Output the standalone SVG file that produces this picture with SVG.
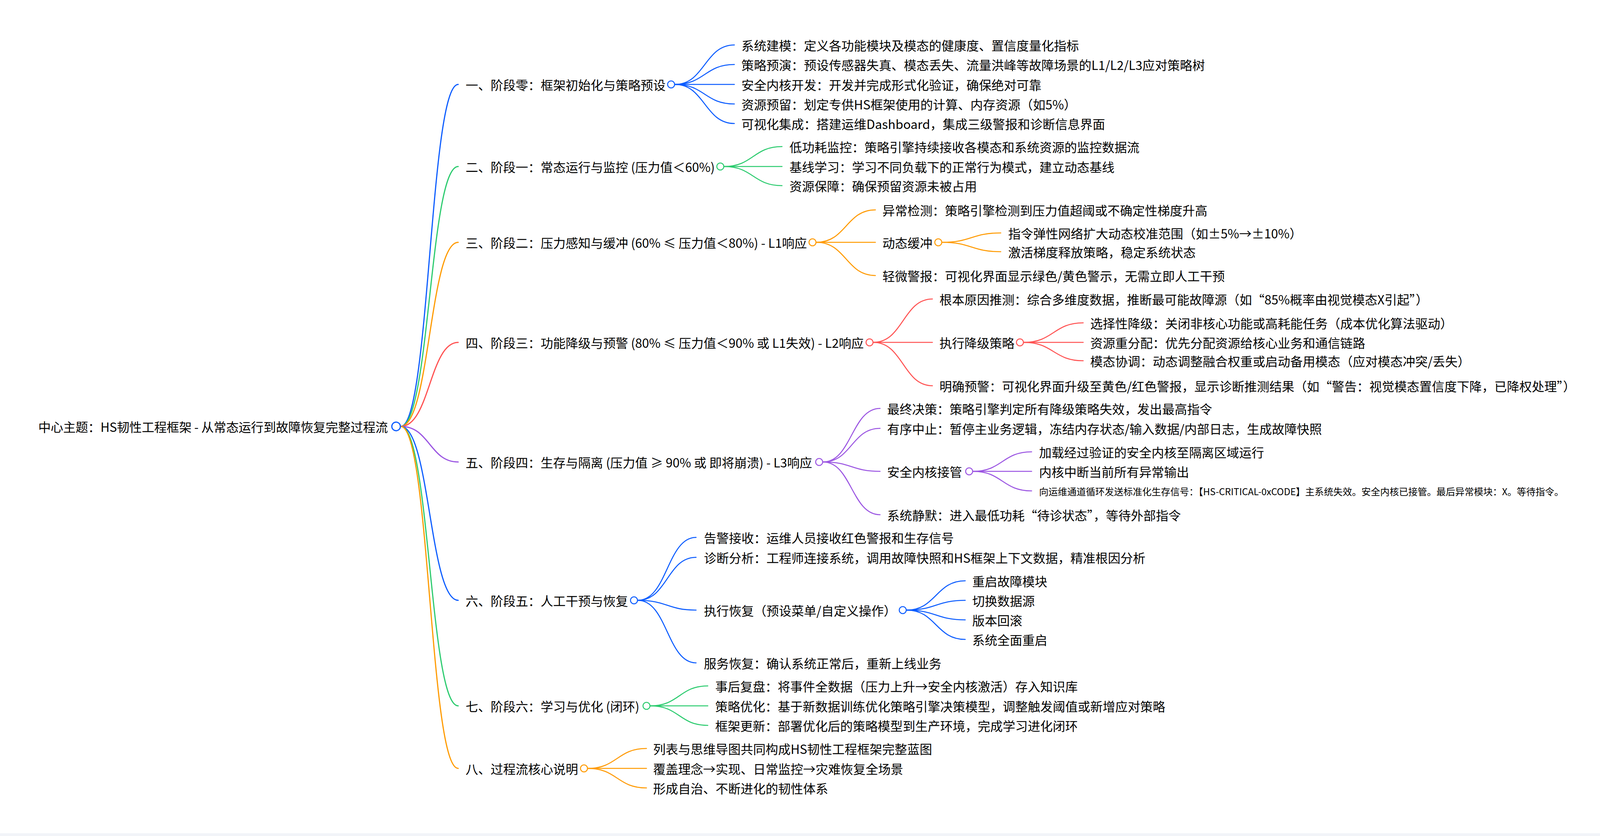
<svg xmlns="http://www.w3.org/2000/svg" width="4548" height="2139" viewBox="0 0 4548 2139">
<style>
text{font-family:"Noto Sans CJK SC","Noto Sans",sans-serif;font-size:32px;fill:#000}
path{fill:none;stroke-linecap:round}
.c0{stroke-width:3}
.c1{stroke-width:2.6}
circle{fill:#fff;stroke-width:2.6}
.b{stroke:#0b5cff}.g{stroke:#2bcb6e}.o{stroke:#ff9a00}.r{stroke:#ff5252}.p{stroke:#9b55e2}
</style>
<rect width="4548" height="2139" fill="#fff"/>
<rect x="0" y="2132" width="4548" height="7" fill="#f2f4f8"/>
<g id="connectors">
<path class="c0 b" d="M1026 1091 C1100 1091 1100 216 1173 216"/>
<path class="c0 g" d="M1026 1091 C1100 1091 1100 426 1173 426"/>
<path class="c0 o" d="M1026 1091 C1100 1091 1100 620 1173 620"/>
<path class="c0 r" d="M1026 1091 C1100 1091 1100 876 1173 876"/>
<path class="c0 p" d="M1026 1091 C1100 1091 1100 1182 1173 1182"/>
<path class="c0 b" d="M1026 1091 C1100 1091 1100 1536 1173 1536"/>
<path class="c0 g" d="M1026 1091 C1100 1091 1100 1806 1173 1806"/>
<path class="c0 o" d="M1026 1091 C1100 1091 1100 1966 1173 1966"/>
<path class="c1 b" d="M1728 216 C1804 216 1804 115 1880 115"/>
<path class="c1 b" d="M1728 216 C1804 216 1804 165 1880 165"/>
<path class="c1 b" d="M1728 216 L1880 216"/>
<path class="c1 b" d="M1728 216 C1804 216 1804 266 1880 266"/>
<path class="c1 b" d="M1728 216 C1804 216 1804 316 1880 316"/>
<path class="c1 g" d="M1854 426 C1928 426 1928 375 2002 375"/>
<path class="c1 g" d="M1854 426 L2002 426"/>
<path class="c1 g" d="M1854 426 C1928 426 1928 475 2002 475"/>
<path class="c1 o" d="M2090 620 C2166 620 2166 537 2241 537"/>
<path class="c1 o" d="M2090 620 L2241 620"/>
<path class="c1 o" d="M2090 620 C2166 620 2166 705 2241 705"/>
<path class="c1 o" d="M2412 620 C2487 620 2487 596 2562 596"/>
<path class="c1 o" d="M2412 620 C2487 620 2487 644 2562 644"/>
<path class="c1 r" d="M2236 876 C2312 876 2312 765 2387 765"/>
<path class="c1 r" d="M2236 876 L2387 876"/>
<path class="c1 r" d="M2236 876 C2312 876 2312 987 2387 987"/>
<path class="c1 r" d="M2621 876 C2697 876 2697 826 2773 826"/>
<path class="c1 r" d="M2621 876 L2773 876"/>
<path class="c1 r" d="M2621 876 C2697 876 2697 923 2773 923"/>
<path class="c1 p" d="M2107 1182 C2180 1182 2180 1045 2253 1045"/>
<path class="c1 p" d="M2107 1182 C2180 1182 2180 1096 2253 1096"/>
<path class="c1 p" d="M2107 1182 C2180 1182 2180 1206 2253 1206"/>
<path class="c1 p" d="M2107 1182 C2180 1182 2180 1317 2253 1317"/>
<path class="c1 p" d="M2491 1206 C2566 1206 2566 1156 2641 1156"/>
<path class="c1 p" d="M2491 1206 L2641 1206"/>
<path class="c1 p" d="M2491 1206 C2566 1206 2566 1256 2641 1256"/>
<path class="c1 b" d="M1633 1536 C1708 1536 1708 1375 1782 1375"/>
<path class="c1 b" d="M1633 1536 C1708 1536 1708 1426 1782 1426"/>
<path class="c1 b" d="M1633 1536 C1708 1536 1708 1561 1782 1561"/>
<path class="c1 b" d="M1633 1536 C1708 1536 1708 1696 1782 1696"/>
<path class="c1 b" d="M2321 1561 C2396 1561 2396 1486 2471 1486"/>
<path class="c1 b" d="M2321 1561 C2396 1561 2396 1536 2471 1536"/>
<path class="c1 b" d="M2321 1561 C2396 1561 2396 1586 2471 1586"/>
<path class="c1 b" d="M2321 1561 C2396 1561 2396 1636 2471 1636"/>
<path class="c1 g" d="M1665 1806 C1739 1806 1739 1755 1812 1755"/>
<path class="c1 g" d="M1665 1806 L1812 1806"/>
<path class="c1 g" d="M1665 1806 C1739 1806 1739 1856 1812 1856"/>
<path class="c1 o" d="M1505 1966 C1580 1966 1580 1915 1655 1915"/>
<path class="c1 o" d="M1505 1966 L1655 1966"/>
<path class="c1 o" d="M1505 1966 C1580 1966 1580 2016 1655 2016"/>
</g>
<g id="root"><text x="993" y="1105" text-anchor="end" textLength="895" lengthAdjust="spacing">中心主题：HS韧性工程框架 - 从常态运行到故障恢复完整过程流</text><circle class="b" cx="1014" cy="1091" r="11" style="stroke-width:3"/></g>
<g id="n1"><text x="1192" y="230">一、阶段零：框架初始化与策略预设</text><circle class="b" cx="1718" cy="216" r="9"/></g>
<g id="n1-1"><text x="1898" y="129">系统建模：定义各功能模块及模态的健康度、置信度量化指标</text></g>
<g id="n1-2"><text x="1898" y="179">策略预演：预设传感器失真、模态丢失、流量洪峰等故障场景的L1/L2/L3应对策略树</text></g>
<g id="n1-3"><text x="1898" y="230">安全内核开发：开发并完成形式化验证，确保绝对可靠</text></g>
<g id="n1-4"><text x="1898" y="280">资源预留：划定专供HS框架使用的计算、内存资源（如5%）</text></g>
<g id="n1-5"><text x="1898" y="330">可视化集成：搭建运维Dashboard，集成三级警报和诊断信息界面</text></g>
<g id="n2"><text x="1192" y="440">二、阶段一：常态运行与监控 (压力值＜60%)</text><circle class="g" cx="1844" cy="426" r="9"/></g>
<g id="n2-1"><text x="2021" y="389">低功耗监控：策略引擎持续接收各模态和系统资源的监控数据流</text></g>
<g id="n2-2"><text x="2021" y="440">基线学习：学习不同负载下的正常行为模式，建立动态基线</text></g>
<g id="n2-3"><text x="2021" y="489">资源保障：确保预留资源未被占用</text></g>
<g id="n3"><text x="1192" y="634">三、阶段二：压力感知与缓冲 (60% ≤ 压力值＜80%) - L1响应</text><circle class="o" cx="2080" cy="620" r="9"/></g>
<g id="n3-1"><text x="2259" y="551">异常检测：策略引擎检测到压力值超阈或不确定性梯度升高</text></g>
<g id="n3-2"><text x="2259" y="634">动态缓冲</text><circle class="o" cx="2402" cy="620" r="9"/></g>
<g id="n3-2-1"><text x="2581" y="610">指令弹性网络扩大动态校准范围（如±5%→±10%）</text></g>
<g id="n3-2-2"><text x="2581" y="658">激活梯度释放策略，稳定系统状态</text></g>
<g id="n3-3"><text x="2259" y="719">轻微警报：可视化界面显示绿色/黄色警示，无需立即人工干预</text></g>
<g id="n4"><text x="1192" y="890">四、阶段三：功能降级与预警 (80% ≤ 压力值＜90% 或 L1失效) - L2响应</text><circle class="r" cx="2226" cy="876" r="9"/></g>
<g id="n4-1"><text x="2405" y="779">根本原因推测：综合多维度数据，推断最可能故障源（如“85%概率由视觉模态X引起”）</text></g>
<g id="n4-2"><text x="2405" y="890">执行降级策略</text><circle class="r" cx="2611" cy="876" r="9"/></g>
<g id="n4-2-1"><text x="2791" y="840">选择性降级：关闭非核心功能或高耗能任务（成本优化算法驱动）</text></g>
<g id="n4-2-2"><text x="2791" y="890">资源重分配：优先分配资源给核心业务和通信链路</text></g>
<g id="n4-2-3"><text x="2791" y="937">模态协调：动态调整融合权重或启动备用模态（应对模态冲突/丢失）</text></g>
<g id="n4-3"><text x="2405" y="1001">明确预警：可视化界面升级至黄色/红色警报，显示诊断推测结果（如“警告：视觉模态置信度下降，已降权处理”）</text></g>
<g id="n5"><text x="1192" y="1196">五、阶段四：生存与隔离 (压力值 ≥ 90% 或 即将崩溃) - L3响应</text><circle class="p" cx="2097" cy="1182" r="9"/></g>
<g id="n5-1"><text x="2271" y="1059">最终决策：策略引擎判定所有降级策略失效，发出最高指令</text></g>
<g id="n5-2"><text x="2271" y="1110">有序中止：暂停主业务逻辑，冻结内存状态/输入数据/内部日志，生成故障快照</text></g>
<g id="n5-3"><text x="2271" y="1220">安全内核接管</text><circle class="p" cx="2481" cy="1206" r="9"/></g>
<g id="n5-3-1"><text x="2660" y="1170">加载经过验证的安全内核至隔离区域运行</text></g>
<g id="n5-3-2"><text x="2660" y="1220">内核中断当前所有异常输出</text></g>
<g id="n5-3-3"><text x="2660" y="1267" style="font-size:24px">向运维通道循环发送标准化生存信号：【HS-CRITICAL-0xCODE】主系统失效。安全内核已接管。最后异常模块：X。等待指令。</text></g>
<g id="n5-4"><text x="2271" y="1331">系统静默：进入最低功耗“待诊状态”，等待外部指令</text></g>
<g id="n6"><text x="1192" y="1550">六、阶段五：人工干预与恢复</text><circle class="b" cx="1623" cy="1536" r="9"/></g>
<g id="n6-1"><text x="1802" y="1389">告警接收：运维人员接收红色警报和生存信号</text></g>
<g id="n6-2"><text x="1802" y="1440">诊断分析：工程师连接系统，调用故障快照和HS框架上下文数据，精准根因分析</text></g>
<g id="n6-3"><text x="1802" y="1575">执行恢复（预设菜单/自定义操作）</text><circle class="b" cx="2311" cy="1561" r="9"/></g>
<g id="n6-3-1"><text x="2489" y="1500">重启故障模块</text></g>
<g id="n6-3-2"><text x="2489" y="1550">切换数据源</text></g>
<g id="n6-3-3"><text x="2489" y="1600">版本回滚</text></g>
<g id="n6-3-4"><text x="2489" y="1650">系统全面重启</text></g>
<g id="n6-4"><text x="1802" y="1710">服务恢复：确认系统正常后，重新上线业务</text></g>
<g id="n7"><text x="1192" y="1820">七、阶段六：学习与优化 (闭环)</text><circle class="g" cx="1655" cy="1806" r="9"/></g>
<g id="n7-1"><text x="1831" y="1769">事后复盘：将事件全数据（压力上升→安全内核激活）存入知识库</text></g>
<g id="n7-2"><text x="1831" y="1820">策略优化：基于新数据训练优化策略引擎决策模型，调整触发阈值或新增应对策略</text></g>
<g id="n7-3"><text x="1831" y="1870">框架更新：部署优化后的策略模型到生产环境，完成学习进化闭环</text></g>
<g id="n8"><text x="1192" y="1980">八、过程流核心说明</text><circle class="o" cx="1495" cy="1966" r="9"/></g>
<g id="n8-1"><text x="1672" y="1929">列表与思维导图共同构成HS韧性工程框架完整蓝图</text></g>
<g id="n8-2"><text x="1672" y="1980">覆盖理念→实现、日常监控→灾难恢复全场景</text></g>
<g id="n8-3"><text x="1672" y="2030">形成自治、不断进化的韧性体系</text></g>
</svg>
